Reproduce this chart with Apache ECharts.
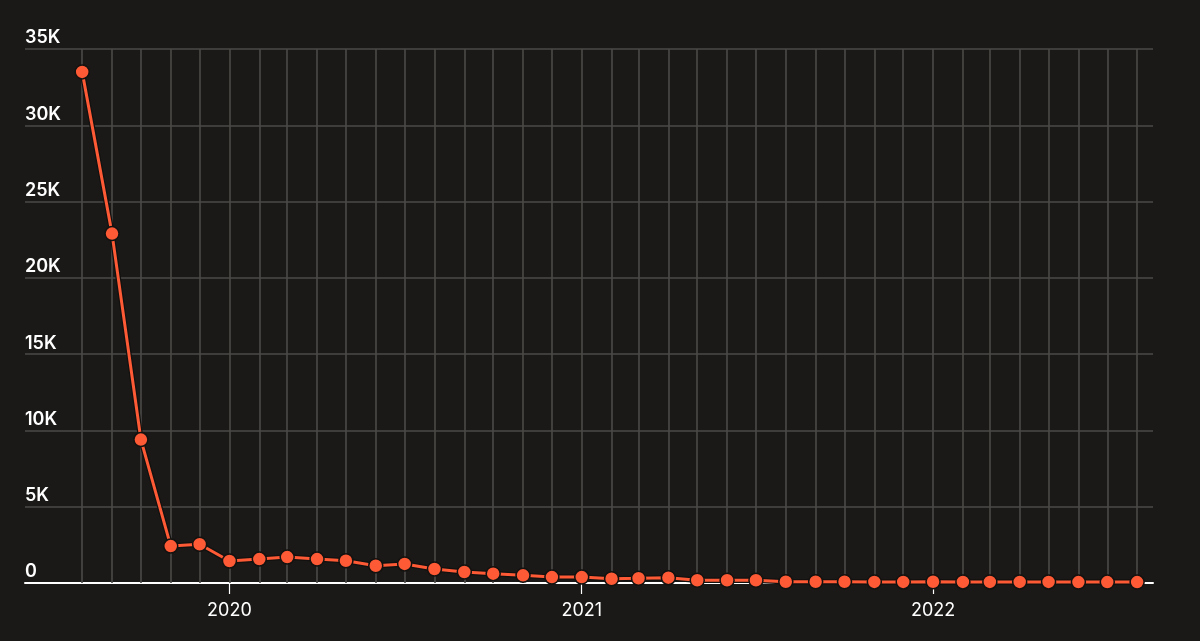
<!DOCTYPE html>
<html>
<head>
<meta charset="utf-8">
<style>
  html, body { margin: 0; padding: 0; background: #1a1917; }
  #chart { width: 1200px; height: 641px; }
</style>
<script src="https://cdn.jsdelivr.net/npm/echarts@6/dist/echarts.min.js"></script>
</head>
<body>
<div id="chart"></div>
<script>
const months = [
  '2019-08-01','2019-09-01','2019-10-01','2019-11-01','2019-12-01',
  '2020-01-01','2020-02-01','2020-03-01','2020-04-01','2020-05-01','2020-06-01',
  '2020-07-01','2020-08-01','2020-09-01','2020-10-01','2020-11-01','2020-12-01',
  '2021-01-01','2021-02-01','2021-03-01','2021-04-01','2021-05-01','2021-06-01',
  '2021-07-01','2021-08-01','2021-09-01','2021-10-01','2021-11-01','2021-12-01',
  '2022-01-01','2022-02-01','2022-03-01','2022-04-01','2022-05-01','2022-06-01',
  '2022-07-01','2022-08-01'
];
const values = [
  33500, 22900, 9400, 2420, 2540,
  1440, 1570, 1700, 1570, 1460, 1130,
  1250, 920, 720, 610, 500, 390,
  390, 280, 310, 350, 180, 180,
  180, 80, 80, 80, 70, 70,
  80, 70, 70, 70, 70, 60,
  60, 60
];
const yearTicks = ['2020-01-01', '2021-01-01', '2022-01-01'];
const yTicks = [0, 5000, 10000, 15000, 20000, 25000, 30000, 35000];

const toTs = s => { const p = s.split('-').map(Number); return Date.UTC(p[0], p[1] - 1, p[2]); };
const seriesData = months.map((m, i) => [toTs(m), values[i]]);
const lineColor = '#fe5a35';
const gridColor = '#4b4a48';

const chart = echarts.init(document.getElementById('chart'), null, { renderer: 'canvas' });
chart.setOption({
  backgroundColor: '#1a1917',
  animation: false,
  grid: { left: 25, right: 47, top: 49, bottom: 58, containLabel: false },
  xAxis: {
    type: 'value',
    min: Date.UTC(2019, 5, 2, 14),
    max: Date.UTC(2022, 7, 17, 12),
    axisLine: { show: true, lineStyle: { color: '#ffffff', width: 2 } },
    axisTick: { show: true, length: 11, lineStyle: { color: '#ffffff', width: 1.2 },
                customValues: yearTicks.map(toTs) },
    axisLabel: {
      customValues: yearTicks.map(toTs),
      formatter: v => String(new Date(v).getUTCFullYear()),
      color: '#ffffff', fontSize: 18, fontFamily: 'Inter', fontWeight: 400, margin: 19
    },
    splitLine: { show: false }
  },
  yAxis: {
    type: 'value',
    min: yTicks[0], max: yTicks[yTicks.length - 1], interval: 5000,
    axisLine: { show: false },
    axisTick: { show: false },
    axisLabel: {
      inside: true, margin: 0, verticalAlign: 'bottom', align: 'left',
      color: '#ffffff', fontSize: 18, fontFamily: 'Inter', fontWeight: 600,
      padding: [0, 0, 2, 0],
      formatter: v => v === 0 ? '0' : (v / 1000) + 'K'
    },
    splitLine: { show: true, lineStyle: { color: gridColor, width: 1.6 } }
  },
  series: [
    {
      name: 'grid-months', type: 'line', z: 1, zlevel: 0, silent: true,
      data: seriesData, showSymbol: false, symbol: 'none',
      lineStyle: { opacity: 0, width: 0 },
      markLine: {
        silent: true, symbol: ['none', 'none'], label: { show: false },
        lineStyle: { color: gridColor, width: 1.6, type: 'solid' },
        emphasis: { disabled: true },
        data: months.map(m => ({ xAxis: toTs(m) }))
      }
    },
    {
      name: 'outline', type: 'line', z: 2, zlevel: 1, silent: true,
      data: seriesData, symbol: 'none',
      lineStyle: { color: '#121110', width: 5.5 }
    },
    {
      name: 'value', type: 'line', z: 3, zlevel: 1,
      data: seriesData,
      symbol: 'circle', symbolSize: 14, showAllSymbol: true,
      lineStyle: { color: lineColor, width: 3 },
      itemStyle: { color: lineColor, borderColor: '#131210', borderWidth: 1.5 }
    }
  ]
});
</script>
</body>
</html>
